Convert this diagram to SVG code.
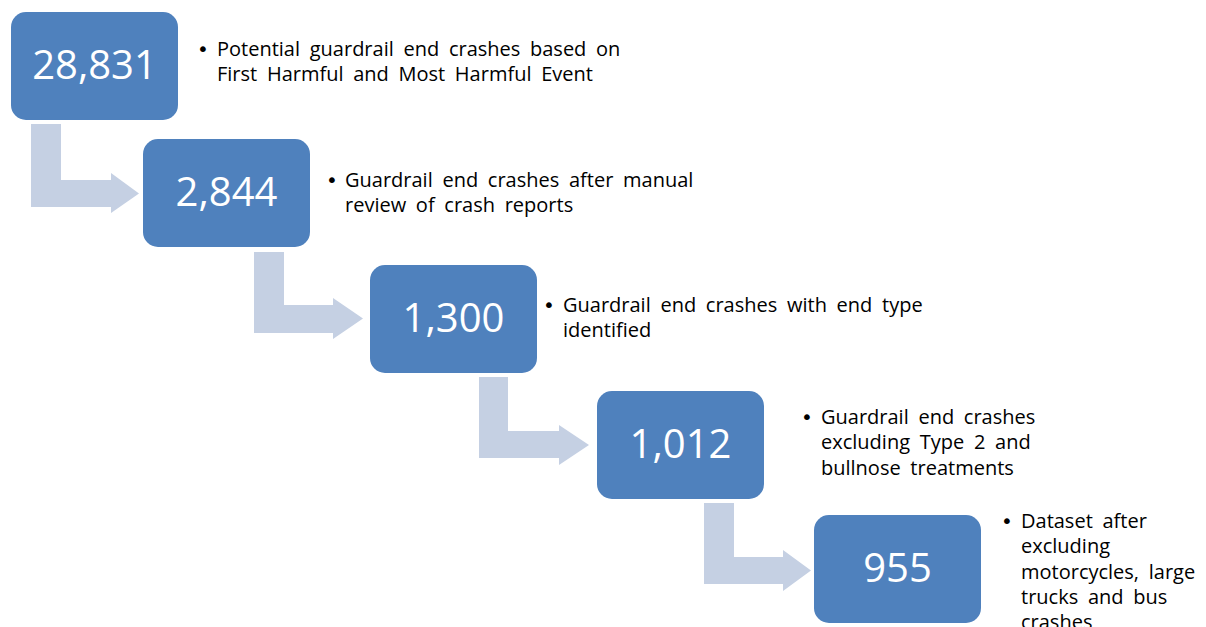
<svg xmlns="http://www.w3.org/2000/svg" width="1206" height="627" viewBox="0 0 1206 627">
<style>
.box{fill:#4F81BD}
.num{font-family:"Open Sans",sans-serif;font-size:40px;fill:#FFFFFF;text-anchor:middle}
.arr{fill:#C5D0E3}
.lbl{font-family:"Open Sans",sans-serif;font-size:20px;word-spacing:4.5px;fill:#000000}
.bul{font-family:"DejaVu Sans",sans-serif;font-size:20px;fill:#000000}
</style>
<rect width="1206" height="627" fill="#FFFFFF"/>
<g id="connectors">
<path class="arr" d="M31,124 H61 V180 H111 V173 L139,193.5 L111,213 V207 H31 Z"/>
<path class="arr" d="M254,252 H284 V305 H333 V298 L363,318.5 L333,339 V333 H254 Z"/>
<path class="arr" d="M479,377 H508 V431 H559 V425 L589,445 L559,465 V458 H479 Z"/>
<path class="arr" d="M704,503 H734 V557 H783 V550 L811,570.5 L783,591 V584 H704 Z"/>
</g>
<g id="node1">
<rect class="box" x="11" y="12" width="167" height="108" rx="15"/>
<text class="num" x="94.5" y="79">28,831</text>
<text class="bul" x="197" y="56">•</text>
<text class="lbl" x="217" y="56">Potential guardrail end crashes based on</text>
<text class="lbl" x="217" y="81">First Harmful and Most Harmful Event</text>
</g>
<g id="node2">
<rect class="box" x="143" y="139" width="167" height="108" rx="15"/>
<text class="num" x="226.5" y="206">2,844</text>
<text class="bul" x="326" y="187">•</text>
<text class="lbl" x="345" y="187">Guardrail end crashes after manual</text>
<text class="lbl" x="345" y="212">review of crash reports</text>
</g>
<g id="node3">
<rect class="box" x="370" y="265" width="167" height="108" rx="15"/>
<text class="num" x="453.5" y="332">1,300</text>
<text class="bul" x="543" y="312">•</text>
<text class="lbl" x="563" y="312">Guardrail end crashes with end type</text>
<text class="lbl" x="563" y="337">identified</text>
</g>
<g id="node4">
<rect class="box" x="597" y="391" width="167" height="108" rx="15"/>
<text class="num" x="680.5" y="458">1,012</text>
<text class="bul" x="801" y="424">•</text>
<text class="lbl" x="821" y="424">Guardrail end crashes</text>
<text class="lbl" x="821" y="449">excluding Type 2 and</text>
<text class="lbl" x="821" y="475">bullnose treatments</text>
</g>
<g id="node5">
<rect class="box" x="814" y="515" width="167" height="108" rx="15"/>
<text class="num" x="897.5" y="582">955</text>
<text class="bul" x="1001" y="528">•</text>
<text class="lbl" x="1021" y="528">Dataset after</text>
<text class="lbl" x="1021" y="553">excluding</text>
<text class="lbl" x="1021" y="579">motorcycles, large</text>
<text class="lbl" x="1021" y="604">trucks and bus</text>
<text class="lbl" x="1021" y="629">crashes</text>
</g>
</svg>
